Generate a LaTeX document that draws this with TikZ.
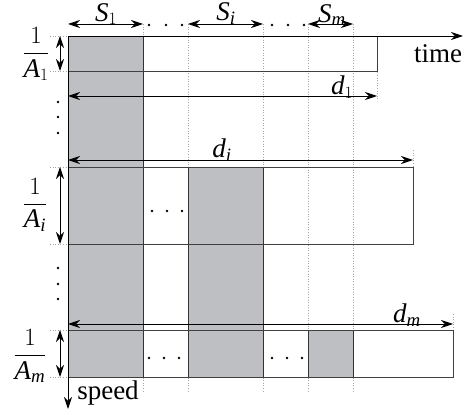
\documentclass[tikz,border=0pt]{standalone}
\usepackage{amsmath}
\usepackage{fontspec}
\setmainfont{Liberation Serif}
\usetikzlibrary{arrows.meta}
\definecolor{cellGray}{RGB}{190,191,195}
\tikzset{
  axisln/.style={-{Stealth[length=12pt,width=8pt]}, line width=0.9pt},
  dimln/.style={{Stealth[length=12pt,width=8pt]}-{Stealth[length=12pt,width=8pt]}, line width=0.9pt},
  guideln/.style={dotted, gray!70, line width=0.6pt},
  rowbox/.style={draw=black!75, line width=0.9pt},
  cell/.style={fill=cellGray, draw=black!80, line width=0.9pt},
  lbl/.style={font=\fontsize{27}{32}\selectfont, inner sep=0pt},
}
\newcommand{\dotat}[2]{\fill (#1,#2) circle (1.3);}

\begin{document}
\begin{tikzpicture}[x=1pt,y=-1pt]
    \useasboundingbox (0,0) rectangle (464,417);
    % guide lines
    \foreach \gx in {143,188,263,308,353}
      \draw[guideln] (\gx,24) -- (\gx,392);
    \foreach \gy in {36,71,167,244,330,377}
      \draw[guideln] (50,\gy) -- (68,\gy);
    \draw[guideln] (377,36) -- (377,101);
    \draw[guideln] (413,150) -- (413,167);
    \draw[guideln] (453,314) -- (453,330);
    % shaded slots
    \draw[cell] (68,36) rectangle (143,377);
    \draw[cell] (188,167) rectangle (263,377);
    \draw[cell] (308,330) rectangle (353,377);
    % rows
    \draw[rowbox] (68,36) rectangle (377,71);
    \draw[rowbox] (68,167) rectangle (413,244);
    \draw[rowbox] (68,330) rectangle (453,377);
    % axes
    \coordinate (orig) at (68,36);
    \coordinate (tend) at (463,36);
    \coordinate (send) at (68,409);
    \draw[axisln] (orig) -- (tend);
    \draw[axisln] (orig) -- (send);
    \node[lbl] (time) at (438,54) {time};
    \node[lbl] (speed) at (108,393) {speed};
    % slot widths
    \foreach \k/\a/\b in {1/68/143, i/188/263, m/308/353} {
      \coordinate (s\k l) at (\a,24);
      \coordinate (s\k r) at (\b,24);
      \draw[dimln] (s\k l) -- (s\k r);
    }
    \node[lbl] (S1) at (106,14) {$\mathit{S}_1$};
    \node[lbl] (Si) at (226,14) {$\mathit{S}_{\mathit{i}}$};
    \node[lbl] (Sm) at (332,15) {$\mathit{S}_{\mathit{m}}$};
    % row lengths
    \foreach \k/\y/\e in {1/96/377, i/160/413, m/324/453} {
      \coordinate (d\k l) at (68,\y);
      \coordinate (d\k r) at (\e,\y);
      \draw[dimln] (d\k l) -- (d\k r);
    }
    \node[lbl] (d1) at (342,87) {$\mathit{d}_1$};
    \node[lbl] (di) at (222,150) {$\mathit{d}_{\mathit{i}}$};
    \node[lbl] (dm) at (407,315) {$\mathit{d}_{\mathit{m}}$};
    % row heights
    \foreach \k/\t/\b in {1/36/71, i/167/244, m/330/377} {
      \coordinate (a\k t) at (60,\t);
      \coordinate (a\k b) at (60,\b);
      \draw[dimln] (a\k t) -- (a\k b);
    }
    \node[lbl] (A1) at (36,54) {$\dfrac{1}{\mathit{A}_1}$};
    \node[lbl] (Ai) at (35,205) {$\dfrac{1}{\mathit{A}_{\mathit{i}}}$};
    \node[lbl] (Am) at (30,356) {$\dfrac{1}{\mathit{A}_{\mathit{m}}}$};
    % dots
    \foreach \dx in {149,166,182,272,288,304} {\dotat{\dx}{25}}
    \foreach \dy in {102,117,133,268,284,299} {\dotat{58}{\dy}}
    \foreach \dx in {152,167,182} {\dotat{\dx}{211}}
    \foreach \dx in {149,164,179,272,287,302} {\dotat{\dx}{358}}
  \end{tikzpicture}
\end{document}
